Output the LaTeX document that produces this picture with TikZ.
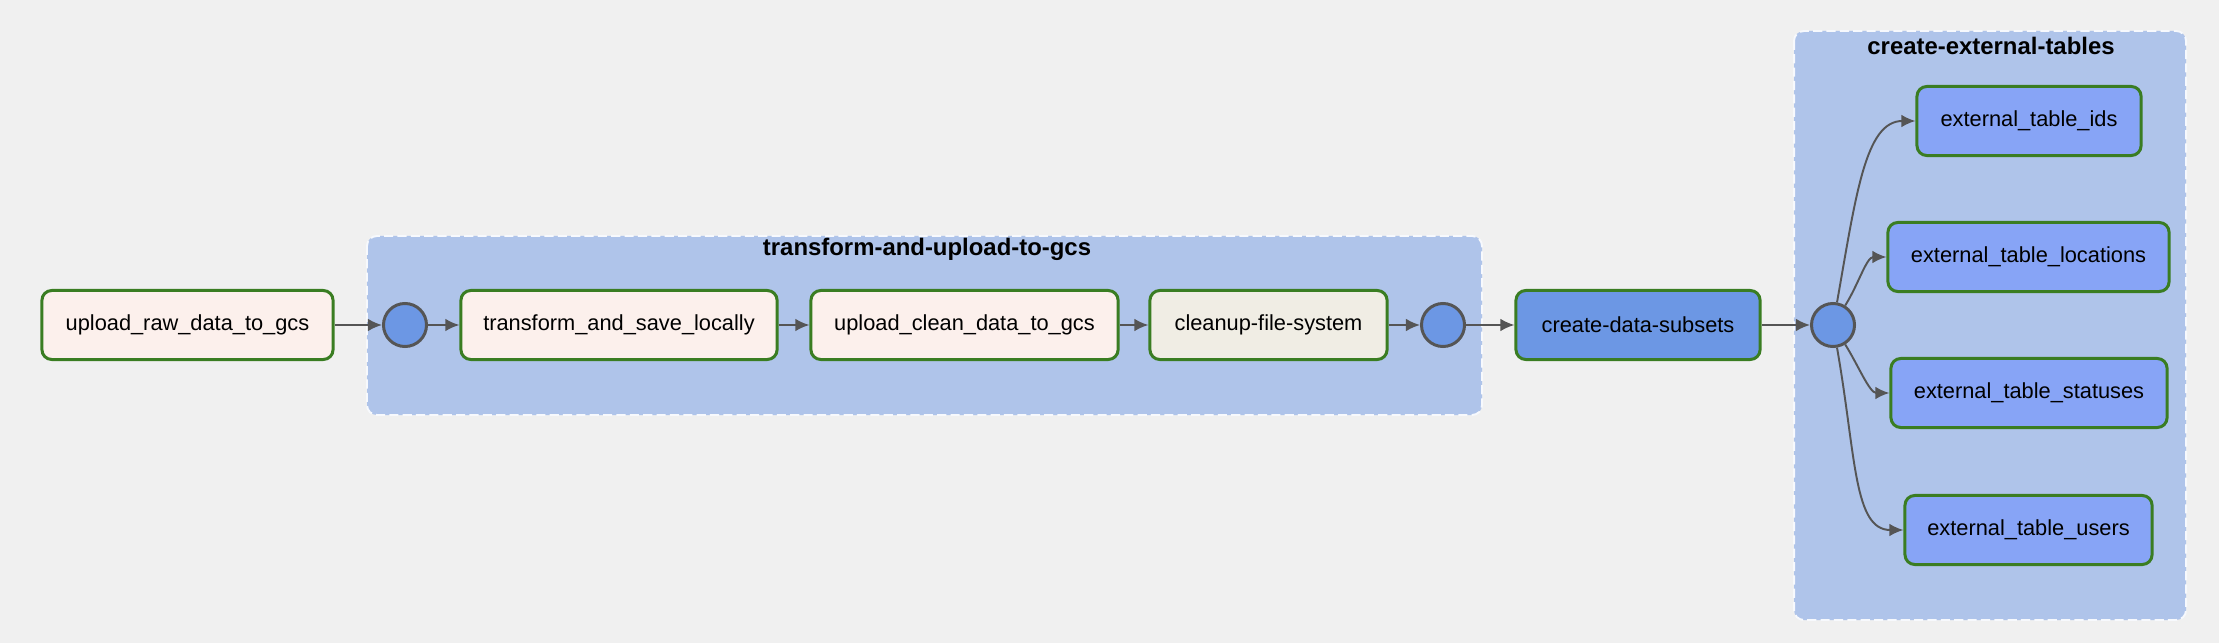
\documentclass[tikz,border=0pt]{standalone}
\usepackage{fontspec}
\setmainfont{Liberation Sans}
\usetikzlibrary{arrows.meta}
\definecolor{bgcol}{HTML}{F0F0F0}
\definecolor{groupcol}{HTML}{AFC4EA}
\definecolor{okgreen}{HTML}{3A7D22}
\definecolor{pycol}{HTML}{FCF0EC}
\definecolor{bashcol}{HTML}{F0EDE4}
\definecolor{subsetcol}{HTML}{6C97E4}
\definecolor{extcol}{HTML}{87A4F6}
\definecolor{edgecol}{HTML}{555555}
\begin{document}
\begin{tikzpicture}[x=0.01cm, y=-0.01cm, >={Latex[length=4pt,width=3.6pt]},
    task/.style={draw=okgreen, line width=0.85pt, rounded corners=2.8pt, minimum height=0.69cm,
      inner sep=0pt, font=\fontsize{6.2}{7}\selectfont},
    joinpt/.style={circle, draw=edgecol, fill=subsetcol, line width=0.85pt, minimum size=0.43cm, inner sep=0pt},
    group/.style={fill=groupcol, draw=white!90!groupcol, line width=0.55pt, dash pattern=on 2.6pt off 1.2pt, rounded corners=2.8pt},
    grouptitle/.style={font=\fontsize{6.8}{8}\selectfont\bfseries, inner sep=0pt},
    edge/.style={->, draw=edgecol, line width=0.55pt}]
\fill[bgcol] (0,0) rectangle (2219,643);
\useasboundingbox (0,0) rectangle (2219,643);
\draw[group] (367,236) rectangle (1482,415);
\node[grouptitle] (tgtitle) at (927,249) {transform-and-upload-to-gcs};
\draw[group] (1794,31) rectangle (2186,620);
\node[grouptitle] (cettitle) at (1991,46) {create-external-tables};
\node[task, fill=pycol, minimum width=2.91cm] (raw) at (187.5,325) {upload\_raw\_data\_to\_gcs};
\node[joinpt] (c1) at (405,325) {};
\node[task, fill=pycol, minimum width=3.16cm] (save) at (619,325) {transform\_and\_save\_locally};
\node[task, fill=pycol, minimum width=3.07cm] (clean) at (964.5,325) {upload\_clean\_data\_to\_gcs};
\node[task, fill=bashcol, minimum width=2.37cm] (cleanup) at (1268.5,325) {cleanup-file-system};
\node[joinpt] (c2) at (1443,325) {};
\node[task, fill=subsetcol, minimum width=2.44cm] (subsets) at (1638,325) {create-data-subsets};
\node[joinpt] (c3) at (1833,325) {};
\node[task, fill=extcol, minimum width=2.24cm] (ids) at (2029,121) {external\_table\_ids};
\node[task, fill=extcol, minimum width=2.81cm] (loc) at (2028.5,257) {external\_table\_locations};
\node[task, fill=extcol, minimum width=2.76cm] (stat) at (2029,393) {external\_table\_statuses};
\node[task, fill=extcol, minimum width=2.47cm] (users) at (2028.5,530) {external\_table\_users};
\draw[edge] (raw) -- (c1);
\draw[edge] (c1) -- (save);
\draw[edge] (save) -- (clean);
\draw[edge] (clean) -- (cleanup);
\draw[edge] (cleanup) -- (c2);
\draw[edge] (c2) -- (subsets);
\draw[edge] (subsets) -- (c3);
\draw[edge] (c3) to[out=80,in=180,out distance=1.1cm,in distance=0.5cm] (ids.west);
\draw[edge] (c3) to[out=58,in=180,out distance=0.25cm,in distance=0.2cm] (loc.west);
\draw[edge] (c3) to[out=-58,in=180,out distance=0.25cm,in distance=0.2cm] (stat.west);
\draw[edge] (c3) to[out=-80,in=180,out distance=1.1cm,in distance=0.5cm] (users.west);
\end{tikzpicture}
\end{document}
